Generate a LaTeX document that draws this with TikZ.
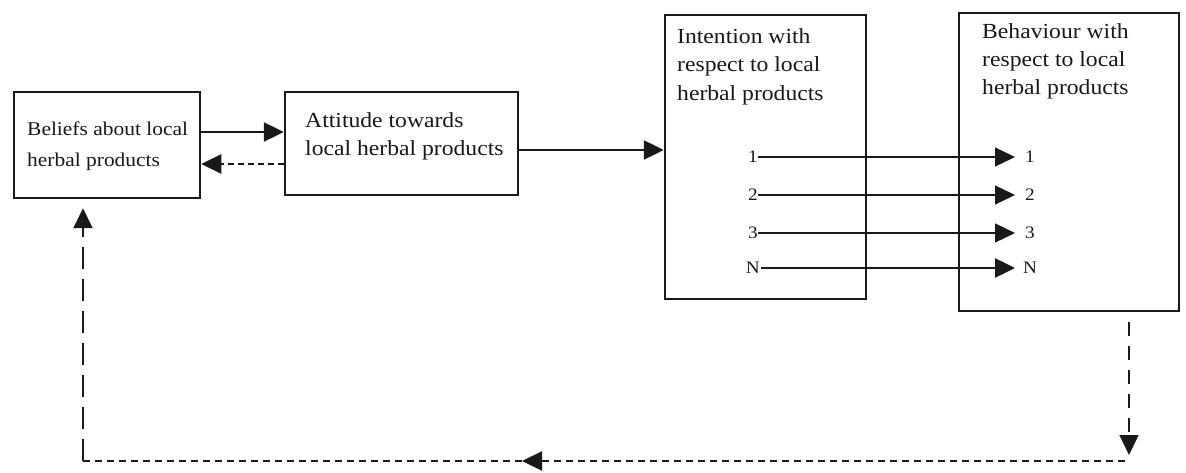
\documentclass[tikz,border=0pt]{standalone}
\usepackage{fontspec}
\setmainfont[FakeStretch=1.1]{Liberation Serif}
\usetikzlibrary{arrows.meta}
\begin{document}
\begin{tikzpicture}[x=1pt,y=-1pt,
  boxstyle/.style={draw=black!90, line width=2.5pt, inner sep=0pt},
  txt/.style={anchor=north west, inner sep=0pt, align=left, text=black!90},
  num/.style={inner sep=0pt, text=black!90, font=\fontsize{17.5}{20}\selectfont},
  tip/.style={-{Triangle[length=20pt,width=19pt]}},
  arr/.style={tip, line width=2.5pt, draw=black!90},
  thinarr/.style={tip, line width=1.3pt, draw=black!90},
  dshort/.style={line width=2.3pt, draw=black!90, dash pattern=on 6pt off 4pt},
  dbot/.style={line width=2.3pt, draw=black!90, dash pattern=on 7.5pt off 4.5pt},
  dleft/.style={line width=2pt, draw=black!90, dash pattern=on 22pt off 10pt},
  dright/.style={line width=1.5pt, draw=black!90, dash pattern=on 14pt off 10pt}]
\useasboundingbox (0,0) rectangle (1186,473);
\fill[white] (0,0) rectangle (1186,473);

% boxes
\node[boxstyle, minimum width=186pt, minimum height=106pt] (b1) at (107,145) {};
\node[boxstyle, minimum width=233pt, minimum height=103pt] (b2) at (401.5,143.5) {};
\node[boxstyle, minimum width=201pt, minimum height=284pt] (b3) at (765.5,157) {};
\node[boxstyle, minimum width=220pt, minimum height=298pt] (b4) at (1069,162) {};

% texts
\node[txt, font=\fontsize{19.5}{31}\selectfont] (t1) at (27,121.5) {Beliefs about local\\herbal products};
\node[txt, font=\fontsize{21.5}{28}\selectfont] (t2) at (305,112.2) {Attitude towards\\local herbal products};
\node[txt, font=\fontsize{21.5}{28.5}\selectfont] (t3) at (677,28.2) {Intention with\\respect to local\\herbal products};
\node[txt, font=\fontsize{21.5}{28}\selectfont] (t4) at (982,23) {Behaviour with\\respect to local\\herbal products};

% main arrows
\draw[arr] ([yshift=13pt]b1.east) -- ([yshift=13pt]b1.east -| b2.west);
\draw[dshort, tip] ([yshift=-20.5pt]b2.west) -- ([yshift=-20.5pt]b2.west -| b1.east);
\draw[arr] ([yshift=-6.5pt]b2.east) -- ([yshift=-6.5pt]b2.east -| b3.west);

% numbered links
\node[num, anchor=east] (i1) at (758,157) {1};
\node[num, anchor=east] (i2) at (758,195) {2};
\node[num, anchor=east] (i3) at (758,233) {3};
\node[num, anchor=east] (iN) at (760,268) {N};
\node[num, anchor=west] (o1) at (1025,157) {1};
\node[num, anchor=west] (o2) at (1025,195) {2};
\node[num, anchor=west] (o3) at (1025,233) {3};
\node[num, anchor=west] (oN) at (1023,268) {N};
\draw[thinarr, shorten >=10pt] (i1.east) -- (o1.west);
\draw[thinarr, shorten >=10pt] (i2.east) -- (o2.west);
\draw[thinarr, shorten >=10pt] (i3.east) -- (o3.west);
\draw[arr, shorten >=8pt, shorten <=1pt] (iN.east) -- (oN.west);

% feedback loop
\coordinate (cR) at (1129,461);
\coordinate (cM) at (522,461);
\coordinate (cL) at (83,461);
\draw[dright, tip] ([yshift=-10pt]b4.south -| cR) -- ([yshift=6pt]cR);
\draw[dbot, tip] ([xshift=-4pt]cR) -- (cM);
\draw[dbot] (cM) -- (cL);
\draw[dleft, tip] (cL) -- ([yshift=-9pt]b1.south -| cL);
\end{tikzpicture}
\end{document}
